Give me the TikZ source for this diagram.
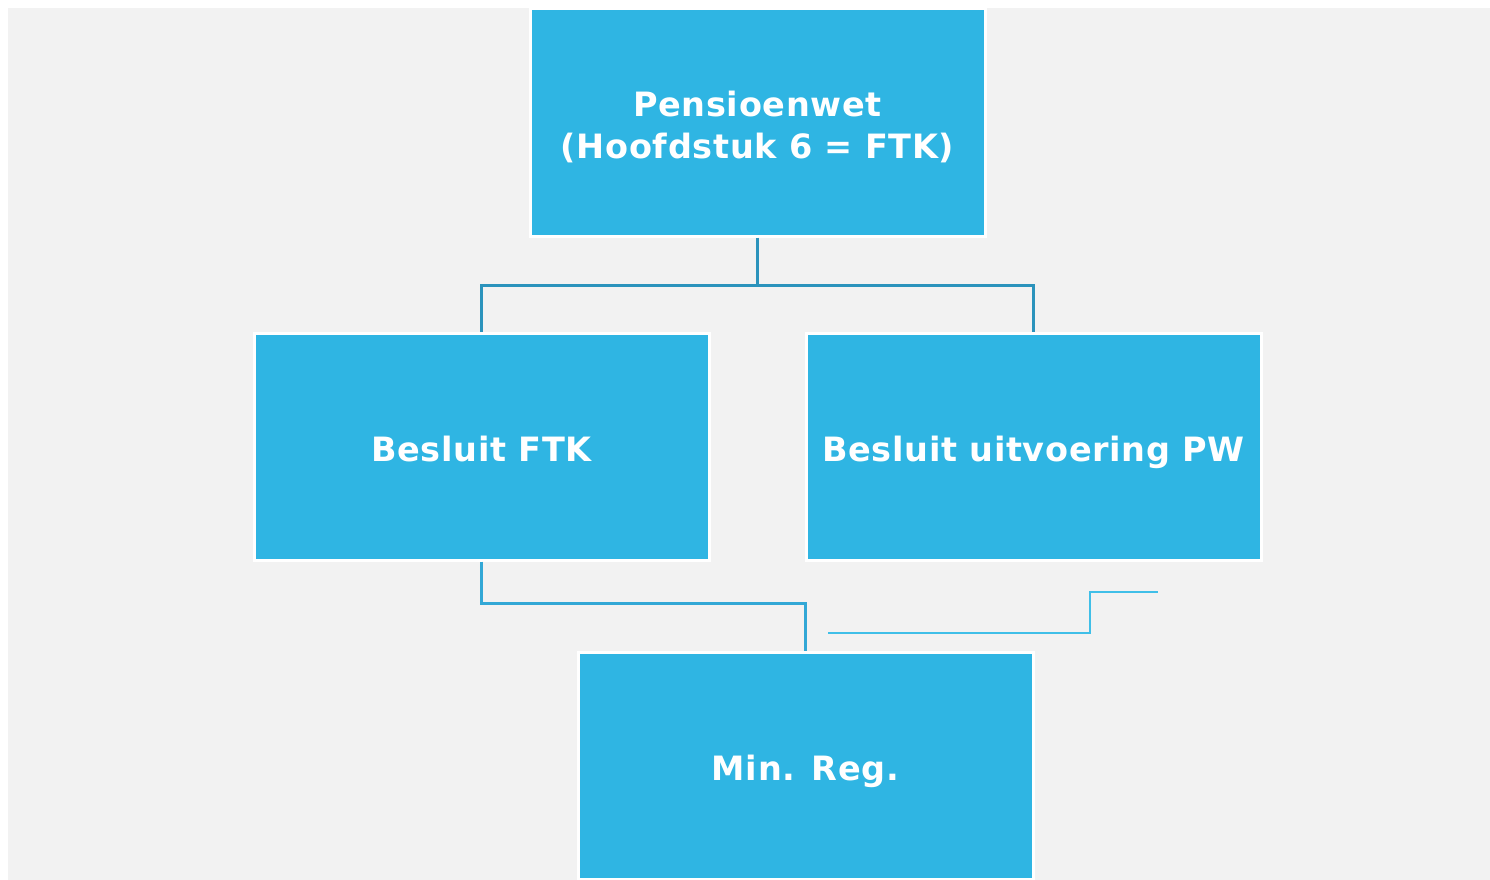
\documentclass[tikz,border=0pt]{standalone}
\usepackage{fontspec}
\setmainfont[LetterSpace=2]{DejaVu Sans}
\usetikzlibrary{positioning}
\definecolor{boxblue}{HTML}{2FB5E3}
\definecolor{paper}{HTML}{F2F2F2}
\definecolor{linkdark}{HTML}{2B93BC}
\definecolor{linkmid}{HTML}{33A8D6}
\definecolor{linklight}{HTML}{40BFE8}

\begin{document}
\begin{tikzpicture}[
  x=1pt, y=-1pt,
  law/.style={draw=white, line width=3pt, fill=boxblue, text=white,
    minimum width=455pt, minimum height=227pt, inner sep=0pt,
    text height=29pt, text depth=0pt,
    font=\fontsize{33.5}{42}\selectfont\bfseries, align=center},
  link/.style={line width=3pt}
]
  \useasboundingbox (0,0) rectangle (1490,880);
  \fill[paper] (8,8) rectangle (1490,880);

  \node[law, text height=72pt] (pw) at (757.5,122.5) {Pensioenwet\\(Hoofdstuk 6 = FTK)};
  \node[law] (ftk) at (481.5,446.5) {Besluit FTK};
  \node[law] (bpw) at (1033.5,446.5) {Besluit uitvoering PW};
  \node[law] (mr) at (805.5,766) {Min. Reg.};

  \draw[link, linkdark] (pw.south) -- ++(0,48) coordinate (split) -| (ftk.north);
  \draw[link, linkdark] (split) -| (bpw.north);
  \draw[link, linkmid] (ftk.south) -- ++(0,42) -| (mr.north);

  \coordinate (stub) at (828,633);
  \coordinate (tail) at (1158,592);
  \draw[linklight, line width=2pt] (stub) -- ++(262,0) |- (tail);
\end{tikzpicture}
\end{document}
